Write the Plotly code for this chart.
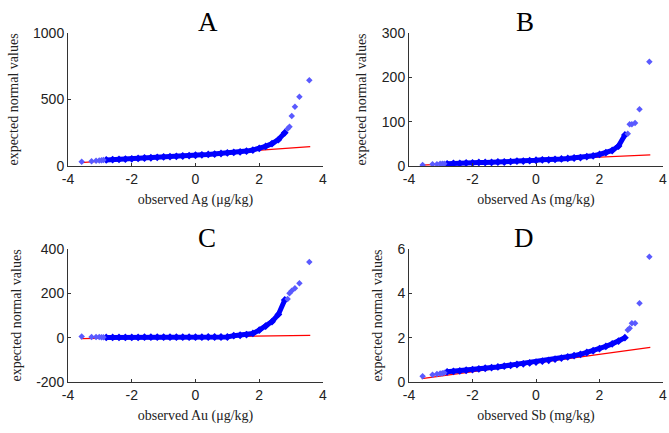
import plotly.graph_objects as go

# === Data ===
# normal quantiles: sparse tails + dense middle
tail_lo = [-3.57, -3.26, -3.12, -3.02, -2.95, -2.89]
dense_q = [-2.8, -2.6, -2.4, -2.2, -2.0, -1.8, -1.6, -1.4, -1.2, -1.0,
           -0.8, -0.6, -0.4, -0.2, 0.0, 0.2, 0.4, 0.6, 0.8, 1.0,
           1.2, 1.4, 1.6, 1.8, 2.0, 2.2, 2.4, 2.6, 2.8]
tail_hi = [2.89, 2.95, 3.02, 3.12, 3.26, 3.57]

ag_lo = [32, 36, 40, 42, 44, 45]
ag_mid = [46, 48, 50, 52, 54, 57, 60, 62, 65, 68, 70, 73, 75, 78, 81,
          84, 87, 90, 94, 98, 102, 106, 112, 120, 132, 148, 168, 198, 250]
ag_hi = [280, 295, 375, 445, 520, 645]
ag_ref = [25, 145]

as_lo = [2, 4, 4, 5, 5, 5]
as_mid = [5, 6, 6, 7, 7, 8, 8, 8, 9, 9, 10, 11, 11, 12, 13,
          14, 14, 15, 16, 17, 18, 19, 21, 23, 26, 30, 35, 45, 70]
as_hi = [73, 94, 94, 97, 128, 235]
as_ref = [2, 25]

au_lo = [5, 3, 3, 3, 2, 2]
au_mid = [1, 1, 1, 1, 1, 1, 2, 2, 2, 2, 2, 2, 2, 2, 2,
          2, 3, 3, 3, 3, 9, 11, 14, 19, 34, 52, 72, 105, 170]
au_hi = [175, 200, 212, 223, 246, 341]
au_ref = [-4, 10]

sb_lo = [0.26, 0.33, 0.36, 0.38, 0.40, 0.42]
sb_mid = [0.46, 0.48, 0.50, 0.53, 0.56, 0.59, 0.62, 0.65, 0.68, 0.72,
          0.75, 0.79, 0.82, 0.86, 0.90, 0.94, 0.98, 1.03, 1.08, 1.13,
          1.19, 1.25, 1.33, 1.41, 1.51, 1.61, 1.72, 1.84, 2.00]
sb_hi = [2.35, 2.42, 2.65, 2.65, 3.55, 5.65]
sb_ref = [0.15, 1.56]

ref_x = [-3.6, 3.6]

panels = [
    ("A", "observed Ag (\u03bcg/kg)", ag_lo, ag_mid, ag_hi, ag_ref, [0, 1000], [0, 500, 1000]),
    ("B", "observed As (mg/kg)", as_lo, as_mid, as_hi, as_ref, [0, 300], [0, 100, 200, 300]),
    ("C", "observed Au (\u03bcg/kg)", au_lo, au_mid, au_hi, au_ref, [-200, 400], [-200, 0, 200, 400]),
    ("D", "observed Sb (mg/kg)", sb_lo, sb_mid, sb_hi, sb_ref, [0, 6], [0, 2, 4, 6]),
]
x_ticks = [-4, -2, 0, 2, 4]

# === Layout geometry (pixels in a 669x433 page) ===
W, H = 669, 433
cols = [(68, 323), (409, 663)]
rows = [(33, 166), (249, 382)]

fig = go.Figure()
tick_font = dict(family="Liberation Sans, Arial", size=14, color="#222")
lab_font = dict(family="Liberation Serif, Times New Roman", size=14, color="#222")

for n, (title, xlab, lo, mid, hi, ref, yr, yt) in enumerate(panels):
    c, r = cols[n % 2], rows[n // 2]
    xa = "x" if n == 0 else f"x{n+1}"
    ya = "y" if n == 0 else f"y{n+1}"
    # reference line
    fig.add_trace(go.Scatter(x=ref_x, y=ref, mode="lines", xaxis=xa, yaxis=ya,
                             line=dict(color="red", width=1.2), showlegend=False))
    # dense band
    fig.add_trace(go.Scatter(x=dense_q, y=mid, mode="lines+markers", xaxis=xa, yaxis=ya,
                             line=dict(color="#0000ff", width=5),
                             marker=dict(symbol="diamond", size=6, color="#0000ff"),
                             showlegend=False))
    # sparse tails
    fig.add_trace(go.Scatter(x=tail_lo + tail_hi, y=lo + hi, mode="markers", xaxis=xa, yaxis=ya,
                             marker=dict(symbol="diamond", size=5, color="#5a5aff"),
                             showlegend=False))
    axis_common = dict(showline=True, linecolor="#333", linewidth=1, ticks="inside",
                       ticklen=3, tickcolor="#333", showgrid=False, zeroline=False,
                       tickfont=tick_font, mirror=False, automargin=False)
    fig.layout[("xaxis" if n == 0 else f"xaxis{n+1}")] = dict(
        domain=[c[0] / W, c[1] / W], anchor=ya, range=[-4, 4],
        tickvals=x_ticks, ticktext=[str(v) for v in x_ticks],
        title=dict(text=xlab, font=lab_font, standoff=8), **axis_common)
    fig.layout[("yaxis" if n == 0 else f"yaxis{n+1}")] = dict(
        domain=[1 - r[1] / H, 1 - r[0] / H], anchor=xa, range=yr,
        tickvals=yt, ticktext=[str(v) for v in yt],
        title=dict(text="expected normal values", font=lab_font, standoff=11), **axis_common)
    fig.add_annotation(text=title, x=(c[0] + c[1]) / 2 / W, y=1 - (r[0] - 11) / H,
                       xref="paper", yref="paper", showarrow=False,
                       font=dict(family="Liberation Serif, Times New Roman", size=27, color="black"),
                       yanchor="middle")

fig.update_layout(width=W, height=H, margin=dict(l=0, r=0, t=0, b=0),
                  paper_bgcolor="white", plot_bgcolor="white")

# body margin off so the figure sits at the page corner
fig.write_html("out.html", config={"displayModeBar": False},
               post_script="document.body.style.margin='0';")
